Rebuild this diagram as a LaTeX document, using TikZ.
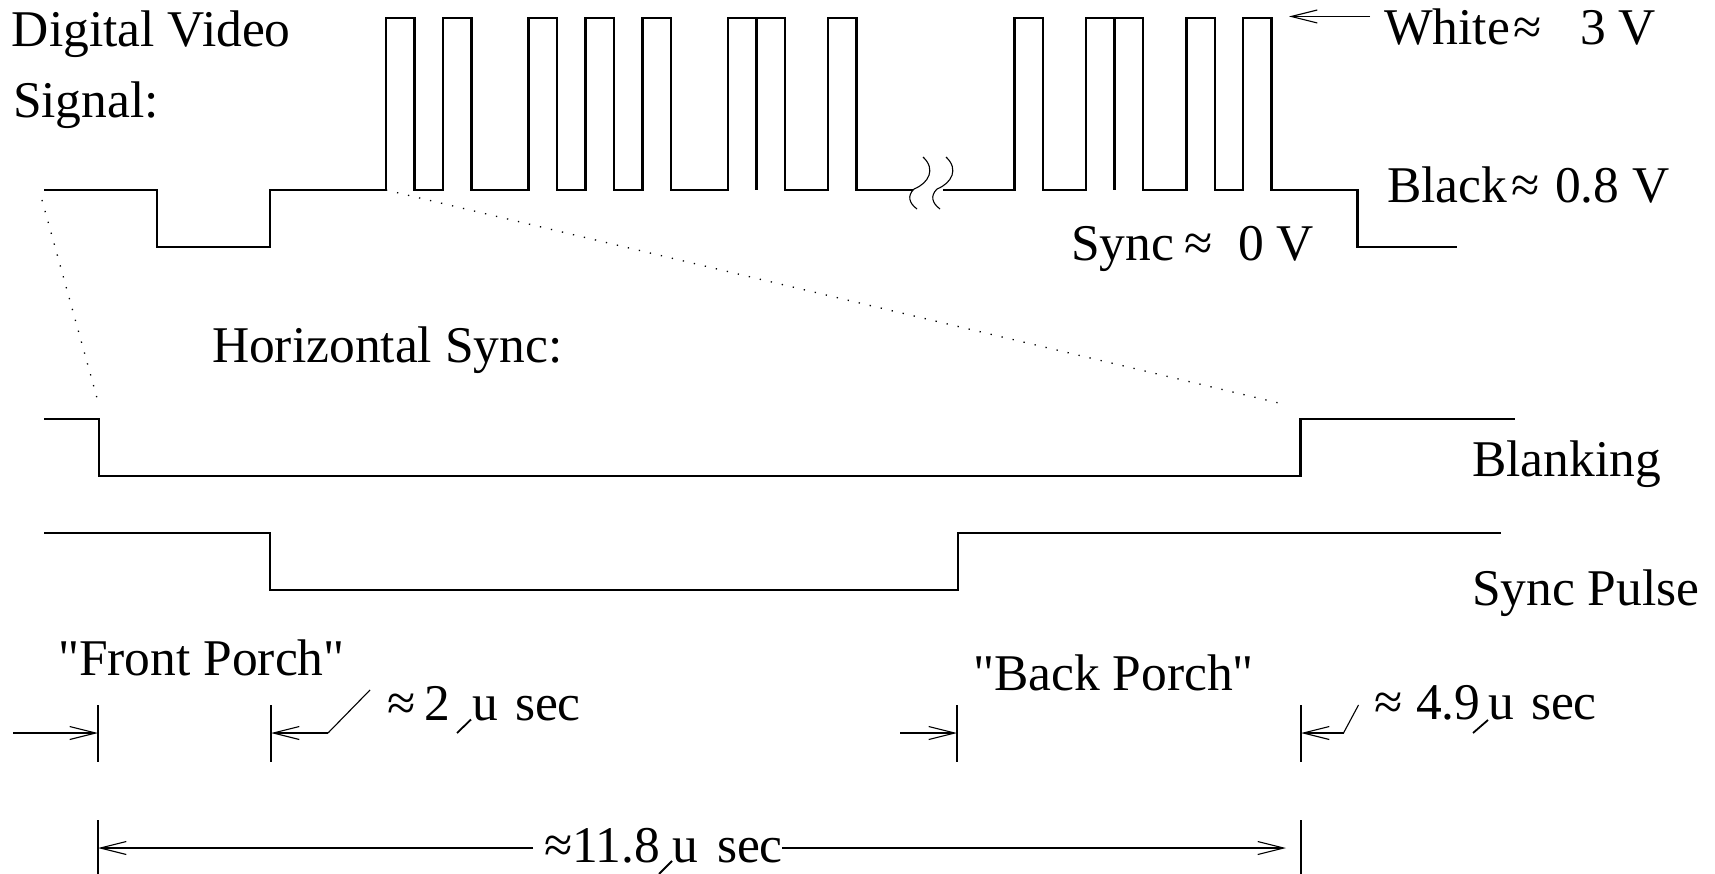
\documentclass[tikz,border=0pt]{standalone}
\usepackage{fontspec}
\setmainfont{Liberation Serif}[Ligatures=TeXOff]
\usetikzlibrary{arrows.meta}
\begin{document}
\begin{tikzpicture}[x=1pt,y=-1pt,
  sig/.style={line width=2.2pt,line join=miter},
  thin/.style={line width=1.1pt},
  arr/.style={thin,-{Straight Barb[length=26pt,width=13pt,line width=1.1pt]}},
  dots/.style={line width=1.3pt,dash pattern=on 1.3pt off 10pt},
  slash/.style={line width=1.8pt},
  lbl/.style={anchor=base west,inner sep=0pt,outer sep=0pt,font=\fontsize{51.5}{60}\selectfont}]
\useasboundingbox (0,0) rectangle (1715,874);
% ---------- top video signal ----------
\draw[sig] (44,190) -- (157,190) -- (157,247) -- (270,247) -- (270,190) -- (386,190)
  -- (386,18) -- (414.5,18) -- (414.5,190) -- (443,190) -- (443,18) -- (471.5,18) -- (471.5,190)
  -- (528.5,190) -- (528.5,18) -- (557,18) -- (557,190) -- (585.5,190) -- (585.5,18) -- (614,18) -- (614,190)
  -- (642.5,190) -- (642.5,18) -- (671,18) -- (671,190) -- (728,190) -- (728,18) -- (756.5,18) -- (756.5,190)
  -- (756.5,18) -- (785,18) -- (785,190) -- (828,190) -- (828,18) -- (856.5,18) -- (856.5,190) -- (913,190);
\draw[sig] (943,190) -- (1014.5,190) -- (1014.5,18) -- (1043,18) -- (1043,190) -- (1086,190) -- (1086,18)
  -- (1114.5,18) -- (1114.5,190) -- (1114.5,18) -- (1143,18) -- (1143,190) -- (1186.5,190) -- (1186.5,18)
  -- (1215,18) -- (1215,190) -- (1243,190) -- (1243,18) -- (1271.5,18) -- (1271.5,190) -- (1357.5,190)
  -- (1357.5,247) -- (1457,247);
% break marks
\draw[thin] (923,157) .. controls (936,169) and (929,183) .. (914,189) .. controls (907,196) and (909,203) .. (917,209);
\draw[thin] (946,157) .. controls (959,169) and (952,183) .. (937,189) .. controls (930,196) and (932,203) .. (940,209);
% dotted zoom lines
\draw[dots] (42,200) -- (97,398);
\draw[dots] (386,190) -- (1283,404);
% ---------- blanking and sync pulse ----------
\draw[sig] (44,419) -- (99,419) -- (99,476) -- (1300.5,476) -- (1300.5,419) -- (1515,419);
\draw[sig] (44,533) -- (270,533) -- (270,590) -- (958,590) -- (958,533) -- (1500.5,533);
% ---------- labels ----------
\node[lbl] (dv) at (12,47) {Digital Video};
\node[lbl] (sg) at (13,118) {Signal:};
\node[lbl] (wh) at (1384,45) {White};
\node[lbl] (wha) at (1513,45) {≈};
\node[lbl] (whv) at (1580,45) {3 V};
\node[lbl] (bl) at (1387,203) {Black};
\node[lbl] (bla) at (1511,203) {≈};
\node[lbl] (blv) at (1555,203) {0.8 V};
\node[lbl] (sy) at (1071,261) {Sync};
\node[lbl] (sya) at (1184,261) {≈};
\node[lbl] (syv) at (1238,261) {0 V};
\node[lbl] (hs) at (212,362) {Horizontal Sync:};
\node[lbl] (bk) at (1472,476) {Blanking};
\node[lbl] (sp) at (1472,605) {Sync Pulse};
\node[lbl] (fp) at (58,675) {"Front Porch"};
\node[lbl] (bp) at (973,690) {"Back Porch"};
% 2 us
\node[lbl] (a1) at (387,720) {≈};
\node[lbl] (n1) at (424,720) {2};
\node[lbl] (u1) at (472,720) {u};
\node[lbl] (s1) at (515,720) {sec};
\draw[slash] (457,733) -- (471,719.5);
% 4.9 us
\node[lbl] (a2) at (1374,719) {≈};
\node[lbl] (n2) at (1416,719) {4.9};
\node[lbl] (u2) at (1488,719) {u};
\node[lbl] (s2) at (1531,719) {sec};
\draw[slash] (1473,733) -- (1488,720);
% 11.8 us
\node[lbl] (a3) at (544,862) {≈};
\node[lbl] (n3) at (572,862) {11.8};
\node[lbl] (u3) at (672,862) {u};
\node[lbl] (s3) at (717,862) {sec};
\draw[slash] (659,874) -- (672,861);
% ---------- dimension marks ----------
\coordinate (t1a) at (98,705);  \coordinate (t1b) at (98,762);
\coordinate (t2a) at (271,705); \coordinate (t2b) at (271,762);
\coordinate (t3a) at (957,705); \coordinate (t3b) at (957,762);
\coordinate (t4a) at (1301,705);\coordinate (t4b) at (1301,762);
\coordinate (L1a) at (98,820);  \coordinate (L1b) at (98,874);
\coordinate (L2a) at (1301,820);\coordinate (L2b) at (1301,874);
\draw[thin] (t1a) -- (t1b);
\draw[thin] (t2a) -- (t2b);
\draw[thin] (t3a) -- (t3b);
\draw[thin] (t4a) -- (t4b);
\draw[thin] (L1a) -- (L1b);
\draw[thin] (L2a) -- (L2b);
\coordinate (fpS) at (13,733);   \coordinate (fpE) at (98,733);
\coordinate (tuS) at (328,733);  \coordinate (tuE) at (271,733); \coordinate (tuL) at (370,690);
\coordinate (bpS) at (900,733);  \coordinate (bpE) at (957,733);
\coordinate (fuS) at (1343.5,733); \coordinate (fuE) at (1301,733); \coordinate (fuL) at (1358.5,705);
\coordinate (lgS1) at (533,848); \coordinate (lgE1) at (98,848);
\coordinate (lgS2) at (782,848); \coordinate (lgE2) at (1286,848);
\coordinate (whS) at (1370,16.5); \coordinate (whE) at (1289,16.5);
\draw[arr] (fpS) -- (fpE);
\draw[arr] (tuS) -- (tuE);
\draw[thin] (tuS) -- (tuL);
\draw[arr] (bpS) -- (bpE);
\draw[arr] (fuS) -- (fuE);
\draw[thin] (fuS) -- (fuL);
\draw[arr] (lgS1) -- (lgE1);
\draw[arr] (lgS2) -- (lgE2);
\draw[arr] (whS) -- (whE);
\end{tikzpicture}
\end{document}
